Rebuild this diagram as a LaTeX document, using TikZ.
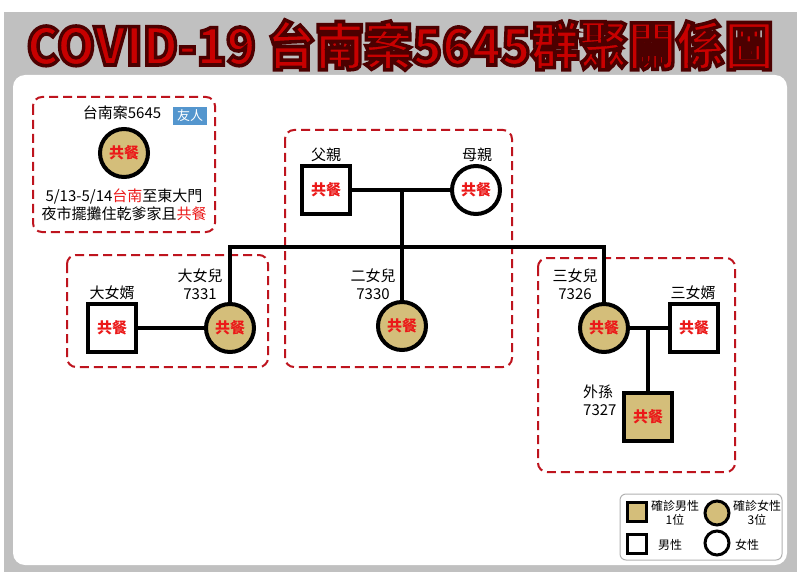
\documentclass[tikz,border=0pt]{standalone}
\usepackage{fontspec}
\setmainfont{Noto Sans CJK TC}
\usetikzlibrary{positioning}

\definecolor{panelgray}{RGB}{192,192,192}
\definecolor{titlered}{RGB}{200,0,0}
\definecolor{grpred}{RGB}{190,20,30}
\definecolor{eatred}{RGB}{235,25,25}
\definecolor{sick}{RGB}{212,190,122}
\definecolor{friendblue}{RGB}{84,150,206}

\tikzset{
  male/.style={draw, line width=4pt, rectangle, minimum size=48pt, inner sep=0pt, fill=white},
  female/.style={draw, line width=4pt, circle, minimum size=48pt, inner sep=0pt, fill=white},
  kin/.style={line width=4pt},
  grp/.style={draw=grpred, line width=2pt, dash pattern=on 9pt off 5pt, rounded corners=9pt},
  lbl/.style={font=\fontsize{15}{18}\selectfont, inner sep=0pt, align=center},
  smalllbl/.style={font=\fontsize{12}{14}\selectfont, inner sep=0pt, align=center},
}
\newcommand{\eat}{\textcolor{eatred}{\bfseries\fontsize{15}{15}\selectfont 共餐}}
% red letters with a dark outline (fill, then stroke)
\newcommand{\titletext}{\scalebox{1.055}[1.12]{\fontsize{46}{46}\selectfont\bfseries
  \color{titlered}\special{pdf:code q 2 Tr 3.2 w 0.3 0 0 RG}COVID-19 台南案5645群聚關係圖\special{pdf:code Q}}}

\begin{document}
\begin{tikzpicture}[x=1pt, y=-1pt]
\useasboundingbox (0,0) rectangle (800,572);
\fill[white] (0,0) rectangle (800,572);
\fill[panelgray] (4,12) rectangle (797,572);
\fill[white, rounded corners=12pt] (13,75) rectangle (787,565);

% title
\node (title) at (400,45) {\titletext};

% group frames
\draw[grp] (33,97) rectangle (215,232);
\draw[grp] (285,130) rectangle (512,367);
\draw[grp] (67,255) rectangle (268,367);
\draw[grp] (538,258) rectangle (735,472);

% friend
\node[female, fill=sick] (friend) at (124,153) {\eat};
\node[lbl] (friendlbl) at (122,113) {台南案5645};
\node[fill=friendblue, text=white, font=\fontsize{13}{13}\selectfont, minimum width=34pt, minimum height=18pt, inner sep=0pt] (friendtag) at (190,116) {友人};
\node[lbl] (friendnote) at (124,205)
  {5/13-5/14\textcolor{eatred}{台南}至東大門\\夜市擺攤住乾爹家且\textcolor{eatred}{共餐}};

% parents
\node[male] (father) at (326,190) {\eat};
\node[female] (mother) at (476,190) {\eat};
\node[lbl] at (326,155) (fatherlbl) {父親};
\node[lbl] at (477,155) (motherlbl) {母親};
\coordinate (pc) at (402,190);
\draw[kin] (father) -- (mother);

% daughters
\node[female, fill=sick] (dau1) at (230,328) {\eat};
\node[female, fill=sick] (dau2) at (402,326) {\eat};
\node[female, fill=sick] (dau3) at (604,328) {\eat};
\node[lbl] (dau1lbl) at (200,284) {大女兒\\7331};
\node[lbl] (dau2lbl) at (373,284) {二女兒\\7330};
\node[lbl] (dau3lbl) at (575,284) {三女兒\\7326};
\coordinate (sibL) at (230,247);
\coordinate (sibR) at (604,247);
\draw[kin] (pc) -- (dau2);
\draw[kin] (dau1) -- (sibL) -- (sibR) -- (dau3);

% sons-in-law
\node[male] (son1) at (112,328) {\eat};
\node[lbl] (son1lbl) at (112,293) {大女婿};
\draw[kin] (son1) -- (dau1);
\node[male] (son3) at (694,328) {\eat};
\node[lbl] (son3lbl) at (693,293) {三女婿};
\draw[kin] (dau3) -- (son3);

% grandson
\node[male, fill=sick] (grandson) at (648,417) {\eat};
\node[lbl, align=left, anchor=west] (grandsonlbl) at (583,400) {外孫\\7327};
\coordinate (gc) at (648,328);
\draw[kin] (gc) -- (grandson);

% legend
\draw[draw=gray!60, line width=1pt, fill=white, rounded corners=6pt] (620,494) rectangle (782,560);
\node[draw, line width=2.5pt, fill=sick, minimum size=19pt, inner sep=0pt] (legsickm) at (637,512) {};
\node[draw, line width=3pt, circle, fill=sick, minimum size=24pt, inner sep=0pt] (legsickf) at (717,513) {};
\node[draw, line width=2.5pt, fill=white, minimum size=19pt, inner sep=0pt] (legm) at (637,544) {};
\node[draw, line width=3pt, circle, fill=white, minimum size=24pt, inner sep=0pt] (legf) at (717,543) {};
\node[smalllbl] (legsickmlbl) at (675,513) {確診男性\\1位};
\node[smalllbl] (legsickflbl) at (757,513) {確診女性\\3位};
\node[smalllbl] (legmlbl) at (670,545) {男性};
\node[smalllbl] (legflbl) at (747,545) {女性};
\end{tikzpicture}
\end{document}
